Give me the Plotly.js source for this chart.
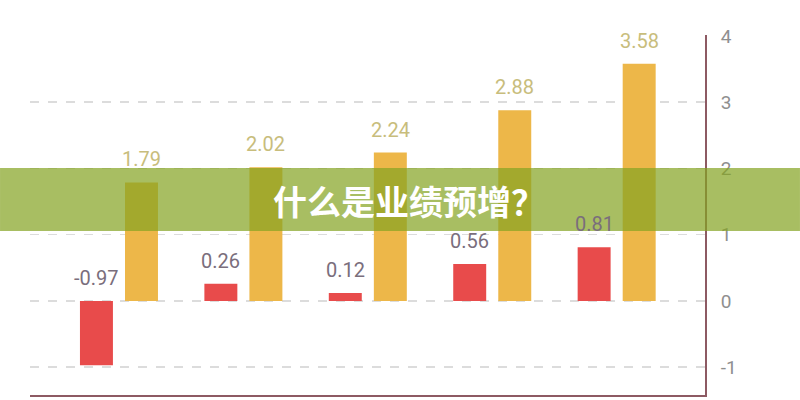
<!DOCTYPE html>
<html>
<head>
<meta charset="utf-8">
<script src="https://cdn.plot.ly/plotly-3.0.1.min.js"></script>
<style>
  html, body { margin: 0; padding: 0; background: #fff; }
  #chart { width: 800px; height: 400px; }
</style>
</head>
<body>
<div id="chart"></div>
<script>
// five periods, labels are not visible in the picture
var periods = [0, 1, 2, 3, 4];
var redValues = [-0.97, 0.26, 0.12, 0.56, 0.81];
var yellowValues = [1.79, 2.02, 2.24, 2.88, 3.58];
var yTicks = [-1, 0, 1, 2, 3, 4];
var yTickText = ['-1', '0', '1', '2', '3', '4'];
var bannerText = '什么是业绩预增？';

var barWidth = 0.265;
var redOffset = -0.3135;
var yellowOffset = 0.0485;

var data = [{
  type: 'bar',
  x: periods,
  y: redValues,
  width: barWidth,
  offset: redOffset,
  marker: {color: '#e84b4b'},
  hoverinfo: 'none'
}, {
  type: 'bar',
  x: periods,
  y: yellowValues,
  width: barWidth,
  offset: yellowOffset,
  marker: {color: '#edb749'},
  hoverinfo: 'none'
}];

var annotations = [];
periods.forEach(function (p, i) {
  annotations.push({
    x: p + redOffset + barWidth / 2, y: Math.max(redValues[i], 0),
    xref: 'x', yref: 'y', text: redValues[i].toFixed(2),
    showarrow: false, yanchor: 'bottom', yshift: 9,
    font: {family: 'Roboto', size: 20, color: '#7a6e7c'}
  });
  annotations.push({
    x: p + yellowOffset + barWidth / 2, y: Math.max(yellowValues[i], 0),
    xref: 'x', yref: 'y', text: yellowValues[i].toFixed(2),
    showarrow: false, yanchor: 'bottom', yshift: 9,
    font: {family: 'Roboto', size: 20, color: '#c8bd7c'}
  });
});

// title banner across the middle of the picture
annotations.push({
  x: 0.5615, y: 0.54, xref: 'paper', yref: 'paper',
  text: '<b>' + bannerText + '</b>', showarrow: false,
  font: {family: 'Noto Sans CJK SC', size: 34, color: '#ffffff'}
});

var layout = {
  width: 800,
  height: 400,
  margin: {l: 30, r: 95, t: 35, b: 5},
  paper_bgcolor: '#ffffff',
  plot_bgcolor: '#ffffff',
  showlegend: false,
  barmode: 'overlay',
  xaxis: {
    range: [-0.715, 4.71],
    showticklabels: false,
    showgrid: false,
    zeroline: false,
    showline: true,
    linecolor: '#8d5a63',
    linewidth: 2,
    fixedrange: true
  },
  yaxis: {
    side: 'right',
    range: [-1.419, 4.015],
    tickvals: yTicks,
    ticktext: yTickText,
    ticks: '',
    ticklabelstandoff: 10,
    tickfont: {family: 'Roboto', size: 19, color: '#8f8f8f'},
    showgrid: true,
    gridcolor: '#dcdcdc',
    gridwidth: 1.5,
    griddash: 'dash',
    zeroline: false,
    showline: true,
    linecolor: '#8d5a63',
    linewidth: 2,
    fixedrange: true
  },
  shapes: [{
    type: 'rect', layer: 'above',
    xref: 'paper', yref: 'paper',
    x0: -0.0444, x1: 1.1407, y0: 0.4556, y1: 0.6306,
    fillcolor: 'rgba(132,163,34,0.71)',
    line: {width: 0}
  }],
  annotations: annotations
};

Plotly.newPlot('chart', data, layout, {displayModeBar: false, staticPlot: true});
</script>
</body>
</html>
